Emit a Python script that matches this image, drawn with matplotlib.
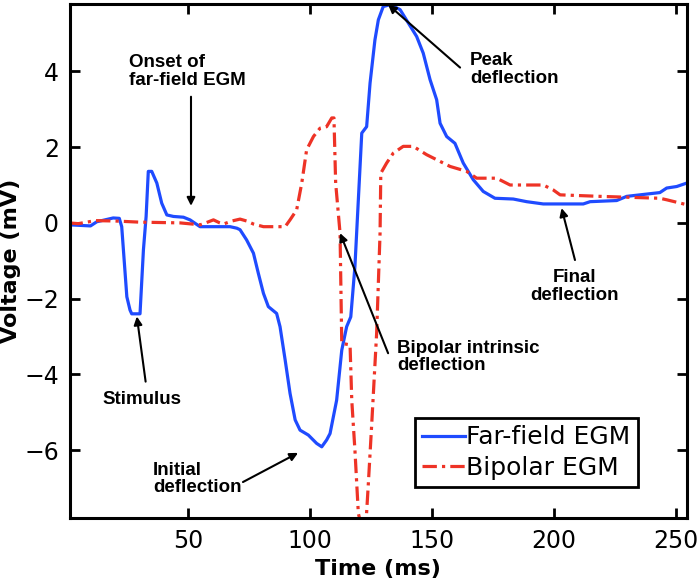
import matplotlib
matplotlib.use('Agg')
from matplotlib import pyplot as plt

# far-field EGM (blue) samples
blue_t = [1, 10, 12.6, 19.3, 21.8, 22.8, 24.9, 26.2, 26.9, 30.3,
          31.7, 32.8, 33.7, 35.1, 37.2, 39.2, 41.3, 44, 48.1, 50.8,
          54.9, 67.2, 70, 71.3, 74, 76.8, 78.8, 80.9, 82.9, 86.3,
          87.7, 89.8, 91.8, 93.9, 95.9, 99.3, 102.7, 104.8, 106.8, 108.2,
          110.9, 113, 115, 116.7, 118.4, 119.8, 121.2, 123.2, 124.6, 126.6,
          128, 130, 132.8, 136.9, 143.7, 146.4, 149.2, 151.9, 153.3, 156,
          159.4, 162.8, 166.9, 171, 175.8, 183.3, 188.8, 195.6, 212, 214.8,
          225.7, 229.8, 239.3, 243.4, 246.2, 250.3, 254.4, 256]
blue_v = [-0.05, -0.08, 0.03, 0.13, 0.12, -0.1, -1.95, -2.3, -2.4, -2.4,
          -0.71, 0.17, 1.36, 1.36, 1.05, 0.52, 0.21, 0.17, 0.15, 0.08,
          -0.1, -0.1, -0.14, -0.18, -0.45, -0.8, -1.33, -1.86, -2.21, -2.39,
          -2.74, -3.62, -4.5, -5.2, -5.47, -5.6, -5.82, -5.91, -5.73, -5.56,
          -4.68, -3.36, -2.74, -2.48, -1.15, 0.61, 2.37, 2.54, 3.69, 4.83,
          5.36, 5.71, 5.76, 5.63, 4.92, 4.48, 3.78, 3.25, 2.63, 2.28,
          2.1, 1.58, 1.14, 0.83, 0.65, 0.63, 0.56, 0.5, 0.5, 0.56,
          0.59, 0.7, 0.77, 0.8, 0.92, 0.96, 1.05, 1.08]

# bipolar EGM (red)
red_t = [1, 5, 12, 20, 30, 46.7, 55, 58, 60.4, 63,
         64.5, 68, 71.3, 74, 76.8, 80.9, 89.8, 91.8, 94.5, 96.6,
         98.6, 101.4, 104.1, 106.8, 108.9, 109.8, 110.5, 112.3, 113, 116.4,
         117.1, 118.4, 119.8, 120.5, 123, 123.9, 125.3, 127.3, 128.7, 129,
         131.4, 134.1, 138.2, 142.3, 147.8, 157.4, 164.2, 168.3, 176.5, 182,
         195.6, 199.7, 202.5, 218.9, 243.4, 246.2, 254.4, 256]
red_v = [0.0, -0.02, 0.06, 0.05, 0.02, 0.0, -0.05, 0.02, 0.08, 0.0,
         -0.03, 0.05, 0.1, 0.05, -0.03, -0.1, -0.1, 0.08, 0.34, 1.05,
         1.93, 2.28, 2.5, 2.54, 2.77, 2.77, 1.05, -0.27, -3.18, -3.22,
         -4.68, -6.0, -7.67, -7.85, -7.85, -6.88, -5.29, -2.91, -0.27, 1.31,
         1.58, 1.84, 2.02, 2.02, 1.8, 1.49, 1.36, 1.18, 1.18, 1.0,
         1.0, 0.87, 0.74, 0.7, 0.65, 0.61, 0.48, 0.45]

# annotations: text, text pos (top), arrow tip, alignment
notes = [
    ('Onset of\nfar-field EGM', (25.6, 4.45), (51.2, 0.45), 'left'),
    ('Stimulus', (31.1, -4.45), (29.0, -2.47), 'center'),
    ('Initial\ndeflection', (35.6, -6.3), (95.1, -6.07), 'left'),
    ('Bipolar intrinsic\ndeflection', (135.6, -3.08), (112.3, -0.27), 'left'),
    ('Peak\ndeflection', (165.6, 4.5), (132, 5.76), 'left'),
    ('Final\ndeflection', (208.6, -1.22), (203.1, 0.39), 'center'),
]
arrow_tails = [(51.2, 3.33), (32.6, -4.19), (72.5, -6.84), (132, -3.44),
               (161.5, 4.1), (208.6, -0.98)]

fig = plt.figure(figsize=(7, 5.88), dpi=100)
ax = fig.add_axes([0.1, 0.119, 0.881, 0.875])

ax.plot(blue_t, blue_v, color='#1f4bff', lw=2.3, label='Far-field EGM')
ax.plot(red_t, red_v, color='#ee3326', lw=2.3, ls=(0, (4.5, 1.6, 1, 1.6)),
        label='Bipolar EGM')

for (txt, pos, tip, ha), tail in zip(notes, arrow_tails):
    ax.annotate('', xy=tip, xytext=tail,
                arrowprops=dict(arrowstyle='-|>', color='black', lw=1.5,
                                mutation_scale=12, shrinkA=0, shrinkB=0))
    ax.text(pos[0], pos[1], txt, ha=ha, va='top', fontsize=13.5,
            fontweight='bold', family='Liberation Sans', linespacing=1.05)

ax.set_xlim(1.6, 254.4)
ax.set_ylim(-7.79, 5.79)
ax.set_xticks([50, 100, 150, 200, 250])
ax.set_yticks([-6, -4, -2, 0, 2, 4])
ax.set_yticklabels(['\u22126', '\u22124', '\u22122', '0', '2', '4'])
ax.tick_params(direction='in', length=7, width=2, labelsize=17,
               top=True, right=True, pad=8)
for s in ax.spines.values():
    s.set_linewidth(2.2)

ax.set_xlabel('Time (ms)', fontsize=16, fontweight='bold', labelpad=4)
ax.set_ylabel('Voltage (mV)', fontsize=16, fontweight='bold', labelpad=2)

leg = ax.legend(loc='lower left', bbox_to_anchor=(0.559, 0.06),
                borderaxespad=0, fontsize=18, handlelength=1.7,
                handletextpad=0.05, fancybox=False, framealpha=1,
                borderpad=0.3, labelspacing=0.25)
leg.get_frame().set_edgecolor('black')
leg.get_frame().set_linewidth(2)

fig.savefig('out.png', dpi=100)
